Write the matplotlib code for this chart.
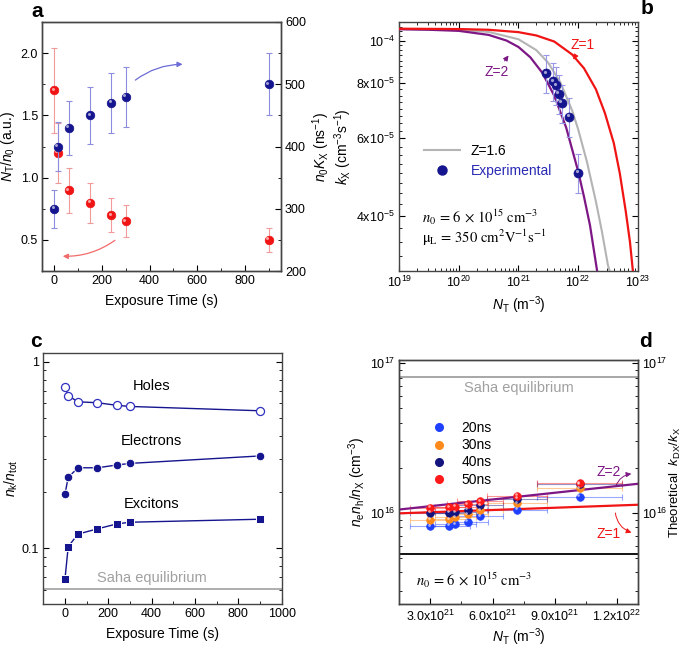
import numpy as np
import matplotlib
matplotlib.use('Agg')
import matplotlib.pyplot as plt
from matplotlib.lines import Line2D
from matplotlib.patches import FancyArrowPatch
from matplotlib.ticker import (FixedLocator, FixedFormatter, NullFormatter,
                               MultipleLocator, LogLocator)
from matplotlib.transforms import offset_copy

plt.rcParams['font.family'] = ['Liberation Sans', 'DejaVu Sans']
plt.rcParams['mathtext.fontset'] = 'custom'
plt.rcParams['mathtext.rm'] = 'Liberation Sans'
plt.rcParams['mathtext.it'] = 'Liberation Sans:italic'
plt.rcParams['mathtext.bf'] = 'Liberation Sans:bold'
plt.rcParams['xtick.direction'] = 'in'
plt.rcParams['ytick.direction'] = 'in'
plt.rcParams['font.size'] = 9
plt.rcParams['axes.edgecolor'] = '#444444'

LBL = 10  # axis label size

# ---- panel a data
t_a = [0, 15, 60, 150, 240, 300, 900]
nt_n0 = [1.70, 1.20, 0.90, 0.80, 0.70, 0.65, 0.50]
nt_n0_err = [0.34, 0.24, 0.18, 0.16, 0.14, 0.13, 0.10]
n0kx = [300, 400, 430, 450, 470, 480, 500]
n0kx_err = [30, 40, 43, 46, 48, 48, 50]

# ---- panel b data (curves)
z2_logN = [19.0, 19.5, 20.0, 20.5, 20.8, 21.0, 21.2, 21.4, 21.6, 21.8, 22.0, 22.1, 22.2, 22.32]
z2_k = [1.061e-4, 1.058e-4, 1.052e-4, 1.03e-4, 1.0e-4, 9.67e-5, 9.16e-5, 8.45e-5,
        7.5e-5, 6.35e-5, 5.06e-5, 4.42e-5, 3.81e-5, 3.0e-5]
z16_logN = [19.0, 20.0, 20.5, 21.0, 21.3, 21.5, 21.7, 21.9, 22.0, 22.15, 22.3, 22.4, 22.5, 22.53]
z16_k = [1.062e-4, 1.058e-4, 1.046e-4, 1.007e-4, 9.51e-5, 8.9e-5, 8.05e-5, 6.94e-5,
         6.3e-5, 5.3e-5, 4.31e-5, 3.69e-5, 3.1e-5, 3.0e-5]
z1_logN = [19.0, 20.0, 20.5, 21.0, 21.3, 21.6, 21.9, 22.1, 22.3, 22.45, 22.6, 22.7, 22.8, 22.87, 22.92]
z1_k = [1.064e-4, 1.062e-4, 1.058e-4, 1.045e-4, 1.027e-4, 9.95e-5, 9.3e-5, 8.65e-5,
        7.75e-5, 6.85e-5, 5.85e-5, 5.0e-5, 4.1e-5, 3.5e-5, 3.0e-5]
exp_N = [2.95e21, 3.85e21, 4.27e21, 4.72e21, 5.37e21, 7.13e21, 1.01e22]
exp_k = [8.44e-5, 8.09e-5, 7.92e-5, 7.58e-5, 7.22e-5, 6.72e-5, 5.02e-5]
b_yticks = [4e-5, 6e-5, 8e-5, 1e-4]
b_ylabels = ['4x10$^{-5}$', '6x10$^{-5}$', '8x10$^{-5}$', '10$^{-4}$']

# ---- panel c data
t_c = [0, 15, 60, 150, 240, 300, 900]
holes = [0.735, 0.658, 0.61, 0.603, 0.584, 0.576, 0.546]
electrons = [0.195, 0.240, 0.270, 0.270, 0.2795, 0.285, 0.3125]
excitons = [0.0682, 0.102, 0.119, 0.127, 0.135, 0.1378, 0.143]
saha_c = 0.0603

# ---- panel d data
d_N = [3.0e21, 3.9e21, 4.2e21, 4.8e21, 5.4e21, 7.2e21, 1.02e22]
d_Nerr = [1.0e21, 1.0e21, 1.0e21, 1.0e21, 1.1e21, 1.45e21, 2.05e21]
d_series = {
    '20ns': [0.815e16, 0.82e16, 0.835e16, 0.87e16, 0.95e16, 1.05e16, 1.28e16],
    '30ns': [0.90e16, 0.91e16, 0.93e16, 0.98e16, 1.04e16, 1.16e16, 1.46e16],
    '40ns': [1.00e16, 1.00e16, 1.01e16, 1.05e16, 1.12e16, 1.24e16, 1.55e16],
    '50ns': [1.08e16, 1.09e16, 1.10e16, 1.14e16, 1.20e16, 1.30e16, 1.58e16],
}
d_colors = {'20ns': '#2040ff', '30ns': '#ff8a1c', '40ns': '#14147e', '50ns': '#ff1a1a'}
d_lineN = [1.5e21, 1.3e22]
d_z2 = [1.05e16, 1.56e16]
d_z1 = [0.99e16, 1.13e16]
saha_d = 8.1e16
n0_d = 5.3e15
d_xticks = [3.0e21, 6.0e21, 9.0e21, 1.2e22]
d_xlabels = ['3.0x10$^{21}$', '6.0x10$^{21}$', '9.0x10$^{21}$', '1.2x10$^{22}$']

NAVY = '#15158f'
RED = '#f01414'
PURPLE = '#7d1785'
GRAY = '#b4b4b4'
ARROW = '-|>,head_length=3,head_width=1.5'

fig = plt.figure(figsize=(6.85, 6.47), dpi=100)


def balls(ax, x, y, color, ms, zorder=5):
    ax.plot(x, y, 'o', ms=ms, color=color, mec=color, mew=0.5, zorder=zorder, ls='none')
    hl = offset_copy(ax.transData, fig=fig, x=-ms * 0.17, y=ms * 0.17, units='points')
    ax.plot(x, y, 'o', ms=ms * 0.35, color='white', alpha=0.6, mew=0,
            transform=hl, zorder=zorder + 0.1, ls='none')


def ticks(ax):
    ax.tick_params(which='major', length=4, pad=3)
    ax.tick_params(which='minor', length=2)
    for s in ax.spines.values():
        s.set_linewidth(1.0)


# ================= a
ax_a = fig.add_axes([0.0618, 0.581, 0.348, 0.385])
ax_a2 = ax_a.twinx()
ax_a.set_xlim(-50, 950)
ax_a.set_ylim(0.25, 2.25)
ax_a2.set_ylim(200, 600)
ax_a.errorbar(t_a, nt_n0, yerr=nt_n0_err, fmt='none', ecolor='#f39a9a',
              elinewidth=0.8, capsize=2, capthick=0.8)
balls(ax_a, t_a, nt_n0, RED, 6.2)
ax_a2.errorbar(t_a, n0kx, yerr=n0kx_err, fmt='none', ecolor='#8d8de0',
               elinewidth=0.8, capsize=2, capthick=0.8)
balls(ax_a2, t_a, n0kx, NAVY, 6.2)
ax_a.xaxis.set_major_locator(MultipleLocator(200))
ax_a.xaxis.set_minor_locator(MultipleLocator(100))
ax_a.yaxis.set_major_locator(FixedLocator([0.5, 1.0, 1.5, 2.0]))
ax_a.yaxis.set_major_formatter(FixedFormatter(['0.5', '1.0', '1.5', '2.0']))
ax_a.yaxis.set_minor_locator(MultipleLocator(0.25))
ax_a2.yaxis.set_major_locator(MultipleLocator(100))
ax_a2.yaxis.set_minor_locator(MultipleLocator(50))
ticks(ax_a)
ticks(ax_a2)
ax_a.set_xlabel('Exposure Time (s)', fontsize=LBL, labelpad=5)
ax_a.set_ylabel(r'$N_\mathrm{T}/n_0$ (a.u.)', fontsize=LBL, labelpad=3)
ax_a2.set_ylabel(r'$n_0K_\mathrm{X}$ (ns$^{-1}$)', fontsize=LBL, labelpad=3)
ax_a2.add_patch(FancyArrowPatch((331, 504), (550, 532), connectionstyle='arc3,rad=-0.18',
                                arrowstyle=ARROW, color='#6c6cd6', lw=0.9))
ax_a.add_patch(FancyArrowPatch((264, 0.51), (24, 0.37), connectionstyle='arc3,rad=-0.18',
                               arrowstyle=ARROW, color='#f26a6a', lw=0.9))

# ================= b
ax_b = fig.add_axes([0.5829, 0.581, 0.348, 0.3845])
ax_b.set_xscale('log')
ax_b.set_yscale('log')
ax_b.plot(10 ** np.array(z16_logN), z16_k, color=GRAY, lw=1.5, zorder=2)
ax_b.plot(10 ** np.array(z2_logN), z2_k, color=PURPLE, lw=1.6, zorder=3)
ax_b.plot(10 ** np.array(z1_logN), z1_k, color=RED, lw=1.6, zorder=3)
ax_b.errorbar(exp_N, exp_k, yerr=[0.1 * k for k in exp_k], xerr=[0.12 * n for n in exp_N],
              fmt='none', ecolor='#9898e4', elinewidth=0.8, capsize=2, capthick=0.8, zorder=4)
balls(ax_b, exp_N, exp_k, NAVY, 6.5)
ax_b.set_xlim(1e19, 1e23)
ax_b.set_ylim(3e-5, 1.1e-4)
ax_b.yaxis.set_major_locator(FixedLocator(b_yticks))
ax_b.yaxis.set_major_formatter(FixedFormatter(b_ylabels))
ax_b.yaxis.set_minor_locator(FixedLocator(np.arange(3e-5, 1.1e-4, 2.5e-6)))
ax_b.yaxis.set_minor_formatter(NullFormatter())
ax_b.xaxis.set_major_locator(LogLocator(base=10, numticks=10))
ax_b.xaxis.set_minor_locator(LogLocator(base=10, subs=np.arange(2, 10), numticks=10))
ax_b.xaxis.set_minor_formatter(NullFormatter())
ax_b.tick_params(which='both', top=True, right=True)
ticks(ax_b)
ax_b.set_xlabel(r'$N_\mathrm{T}$ (m$^{-3}$)', fontsize=LBL, labelpad=3)
ax_b.set_ylabel(r'$k_\mathrm{X}$ (cm$^{-3}$s$^{-1}$)', fontsize=LBL, labelpad=2)
leg_b = ax_b.legend([Line2D([], [], color=GRAY, lw=1.5),
                     Line2D([], [], marker='o', ls='none', ms=6.5, color=NAVY)],
                    ['Z=1.6', 'Experimental'], loc='upper left', bbox_to_anchor=(0.05, 0.56),
                    frameon=False, fontsize=10, handlelength=2.6, labelspacing=0.4)
leg_b.get_texts()[1].set_color('#2a2ab4')
ax_b.text(0.094, 0.217, r'$n_0\,=\,6\,\times\,10^{15}\ \mathrm{cm}^{-3}$', transform=ax_b.transAxes,
          fontsize=10.5, math_fontfamily='stix', va='center')
ax_b.text(0.094, 0.133, r'$\mathrm{\mu_L}\,=\,350\ \mathrm{cm}^{2}\mathrm{V}^{-1}\mathrm{s}^{-1}$',
          transform=ax_b.transAxes, fontsize=10.5, math_fontfamily='stix', va='center')
ax_b.text(0.41, 0.80, 'Z=2', transform=ax_b.transAxes, color=PURPLE, fontsize=10,
          ha='center', va='center')
ax_b.add_patch(FancyArrowPatch((0.435, 0.836), (0.465, 0.876), transform=ax_b.transAxes,
                               arrowstyle=ARROW, color=PURPLE, lw=0.8))
ax_b.text(0.767, 0.909, 'Z=1', transform=ax_b.transAxes, color=RED, fontsize=10,
          ha='center', va='center')
ax_b.add_patch(FancyArrowPatch((0.741, 0.868), (0.724, 0.84), transform=ax_b.transAxes,
                               arrowstyle=ARROW, color=RED, lw=0.8))

# ================= c
ax_c = fig.add_axes([0.0632, 0.066, 0.348, 0.389])
ax_c.set_yscale('log')
ax_c.set_xlim(-100, 1000)
ax_c.set_ylim(0.05, 1.12)
ax_c.axhline(saha_c, color='#a0a0a0', lw=1.2, zorder=1)
ax_c.plot(t_c, holes, '-o', color=NAVY, lw=1.0, ms=5.8, mfc='white', mec='#3030c0', mew=0.9)
ax_c.plot(t_c, electrons, '-o', color=NAVY, lw=1.0, ms=6.2, mfc=NAVY, mec='white', mew=0.7)
ax_c.plot(t_c, excitons, '-s', color=NAVY, lw=1.0, ms=5.8, mfc=NAVY, mec='white', mew=0.7)
ax_c.text(400, 0.74, 'Holes', ha='center', va='center', fontsize=10.5)
ax_c.text(400, 0.375, 'Electrons', ha='center', va='center', fontsize=10.5)
ax_c.text(400, 0.172, 'Excitons', ha='center', va='center', fontsize=10.5)
ax_c.text(400, 0.0695, 'Saha equilibrium', ha='center', va='center', fontsize=10.5,
          color='#a0a0a0')
ax_c.xaxis.set_major_locator(MultipleLocator(200))
ax_c.xaxis.set_minor_locator(MultipleLocator(100))
ax_c.yaxis.set_major_locator(FixedLocator([0.1, 1.0]))
ax_c.yaxis.set_major_formatter(FixedFormatter(['0.1', '1']))
ax_c.yaxis.set_minor_locator(LogLocator(base=10, subs=np.arange(2, 10), numticks=10))
ax_c.yaxis.set_minor_formatter(NullFormatter())
ax_c.tick_params(which='both', right=True)
ticks(ax_c)
ax_c.set_xlabel('Exposure Time (s)', fontsize=LBL, labelpad=5)
ax_c.set_ylabel(r'$n_\mathrm{k}/n_\mathrm{tot}$', fontsize=LBL, labelpad=1)

# ================= d
ax_d = fig.add_axes([0.5829, 0.066, 0.348, 0.3776])
ax_d.set_yscale('log')
ax_d.set_xlim(1.5e21, 1.3e22)
ax_d.set_ylim(2.44e15, 1.05e17)
ax_d.axhline(saha_d, color='#a0a0a0', lw=1.3, zorder=1)
ax_d.axhline(n0_d, color='black', lw=1.3, zorder=1)
ax_d.plot(d_lineN, d_z2, color=PURPLE, lw=1.6, zorder=3)
ax_d.plot(d_lineN, d_z1, color=RED, lw=1.6, zorder=3)
for name, vals in d_series.items():
    ax_d.errorbar(d_N, vals, xerr=d_Nerr, fmt='none', ecolor=d_colors[name], alpha=0.45,
                  elinewidth=0.8, capsize=2, capthick=0.8, zorder=2)
for name, vals in d_series.items():
    balls(ax_d, d_N, vals, d_colors[name], 5.5)
handles = [Line2D([], [], marker='o', ls='none', ms=5.5, color=d_colors[n]) for n in d_series]
ax_d.legend(handles, list(d_series.keys()), loc='upper left', bbox_to_anchor=(0.08, 0.80),
            frameon=False, fontsize=10, handletextpad=1.0, labelspacing=0.22, handlelength=1.2)
ax_d.text(0.5, 0.885, 'Saha equilibrium', transform=ax_d.transAxes, ha='center', va='center',
          fontsize=10.5, color='#a0a0a0')
ax_d.text(0.07, 0.10, r'$n_0\,=\,6\,\times\,10^{15}\ \mathrm{cm}^{-3}$', transform=ax_d.transAxes,
          fontsize=10.5, math_fontfamily='stix', va='center')
ax_d.text(0.88, 0.54, 'Z=2', transform=ax_d.transAxes, color=PURPLE, fontsize=10,
          ha='center', va='center')
ax_d.add_patch(FancyArrowPatch((0.905, 0.475), (0.985, 0.535), transform=ax_d.transAxes,
                               connectionstyle='arc3,rad=-0.35', arrowstyle=ARROW,
                               color=PURPLE, lw=0.7))
ax_d.text(0.88, 0.288, 'Z=1', transform=ax_d.transAxes, color=RED, fontsize=10,
          ha='center', va='center')
ax_d.add_patch(FancyArrowPatch((0.905, 0.385), (0.985, 0.29), transform=ax_d.transAxes,
                               connectionstyle='arc3,rad=0.35', arrowstyle=ARROW,
                               color=RED, lw=0.7))
ax_d.xaxis.set_major_locator(FixedLocator(d_xticks))
ax_d.xaxis.set_major_formatter(FixedFormatter(d_xlabels))
ax_d.xaxis.set_minor_locator(MultipleLocator(1.5e21))
ticks(ax_d)
ax_d.set_xlabel(r'$N_\mathrm{T}$ (m$^{-3}$)', fontsize=LBL, labelpad=2)
ax_d.set_ylabel(r'$n_\mathrm{e}n_\mathrm{h}/n_\mathrm{X}$ (cm$^{-3}$)', fontsize=LBL, labelpad=1)
ax_d2 = ax_d.twinx()
ax_d2.set_yscale('log')
ax_d2.set_ylim(2.44e15, 1.05e17)
ticks(ax_d2)
ax_d2.set_ylabel(r'Theoretical  $k_\mathrm{DX}/k_\mathrm{X}$', fontsize=9.5, labelpad=0.5)

# panel letters
for lab, x, y in [('a', 0.055, 0.982), ('b', 0.944, 0.987), ('c', 0.053, 0.472), ('d', 0.942, 0.472)]:
    fig.text(x, y, lab, fontsize=15, fontweight='bold', ha='center', va='center')

fig.savefig('out.png', dpi=100)
